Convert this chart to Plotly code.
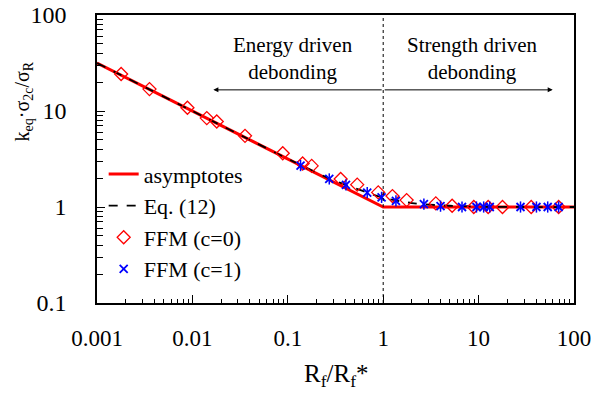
import math
import plotly.graph_objects as go

# ---------------- data ----------------
asym_x = [0.001, 1, 100]
asym_y = [31.62, 1, 1]

eq12_x = [0.001, 0.01, 0.1, 0.2, 0.3, 0.5, 0.7, 1.0, 1.5, 2.0, 3.0, 5.0, 10.0, 30.0, 100.0]
eq12_y = [31.62, 10.0, 3.18, 2.28, 1.90, 1.58, 1.40, 1.25, 1.15, 1.10, 1.06, 1.03, 1.01, 1.0, 1.0]

ffm0_x = [0.00179, 0.00355, 0.00887, 0.01415, 0.0180, 0.0356, 0.0885, 0.143, 0.178, 0.358, 0.534,
          0.887, 1.25, 1.76, 3.56, 5.28, 8.9, 12.6, 17.8, 35.6, 69.0]
ffm0_y = [24.3, 16.9, 10.8, 8.43, 7.77, 5.51, 3.63, 2.84, 2.68, 1.96, 1.71,
          1.42, 1.30, 1.18, 1.09, 1.03, 1.0, 1.0, 1.0, 1.0, 1.0]

ffm1_x = [0.136, 0.272, 0.407, 0.680, 0.962, 1.36, 2.67, 3.99, 6.7, 9.5, 11.3, 13.1, 27.5, 40.4, 53.0, 69.0]
ffm1_y = [2.70, 1.96, 1.70, 1.41, 1.26, 1.16, 1.07, 1.02, 1.0, 1.0, 1.0, 1.0, 1.0, 1.0, 1.0, 1.0]

x_ticks = [0.001, 0.01, 0.1, 1, 10, 100]
x_ticktext = ["0.001", "0.01", "0.1", "1", "10", "100"]
y_ticks = [0.1, 1, 10, 100]
y_ticktext = ["0.1", "1", "10", "100"]

transition_x = 1
energy_arrow_end = 0.0166
strength_arrow_end = 59.8
arrow_y = 16.6
label_y = 35.1
energy_label_x = 0.113
strength_label_x = 8.69

FONT = "Liberation Serif"

minor_x = [m * 10 ** e for e in range(-3, 2) for m in range(2, 10)]
minor_y = [m * 10 ** e for e in range(-1, 2) for m in range(2, 10)]

L = math.log10

fig = go.Figure()
fig.add_trace(go.Scatter(x=asym_x, y=asym_y, mode="lines", name="asymptotes",
                         line=dict(color="#ff0000", width=3)))
fig.add_trace(go.Scatter(x=eq12_x, y=eq12_y, mode="lines", name="Eq. (12)",
                         line=dict(color="black", width=1.8, dash="dash", shape="spline")))
fig.add_trace(go.Scatter(x=ffm0_x, y=ffm0_y, mode="markers", name="FFM (c=0)",
                         marker=dict(symbol="diamond-open", size=10, color="#ff0000",
                                     line=dict(width=1.3, color="#ff0000"))))
fig.add_trace(go.Scatter(x=ffm1_x, y=ffm1_y, mode="markers", name="FFM (c=1)",
                         marker=dict(symbol="x-thin-open", size=8, color="#0000ff",
                                     line=dict(width=1.8, color="#0000ff"))))
fig.add_trace(go.Scatter(x=ffm1_x, y=ffm1_y, mode="markers", showlegend=False,
                         marker=dict(symbol="line-ns-open", size=8, color="#0000ff",
                                     line=dict(width=1.5, color="#0000ff"))))

fig.add_shape(type="line", xref="x", yref="paper", x0=transition_x, x1=transition_x,
              y0=0, y1=1, line=dict(color="black", width=1, dash="dot"))

# annotations on log axes take log10 positions
fig.add_annotation(xref="x", yref="y", axref="x", ayref="y",
                   x=L(energy_arrow_end), y=L(arrow_y), ax=L(transition_x), ay=L(arrow_y),
                   text="", showarrow=True, arrowhead=2, arrowsize=1, arrowwidth=1, arrowcolor="black")
fig.add_annotation(xref="x", yref="y", axref="x", ayref="y",
                   x=L(strength_arrow_end), y=L(arrow_y), ax=L(transition_x), ay=L(arrow_y),
                   text="", showarrow=True, arrowhead=2, arrowsize=1, arrowwidth=1, arrowcolor="black")
fig.add_annotation(xref="x", yref="y", x=L(energy_label_x), y=L(label_y),
                   text="Energy driven<br>debonding", showarrow=False,
                   font=dict(family=FONT, size=21, color="black"))
fig.add_annotation(xref="x", yref="y", x=L(strength_label_x), y=L(label_y),
                   text="Strength driven<br>debonding", showarrow=False,
                   font=dict(family=FONT, size=21, color="black"))

fig.add_annotation(xref="paper", yref="paper", x=-0.155, y=0.70,
                   xanchor="center", yanchor="middle",
                   text="k<sub>eq</sub>·σ<sub>2c</sub>/σ<sub>R</sub>", textangle=-90,
                   showarrow=False, font=dict(family=FONT, size=20, color="black"))
fig.add_annotation(xref="paper", yref="paper", x=0.5, y=-0.252,
                   xanchor="center", yanchor="middle",
                   text="R<sub>f</sub>/R<sub>f</sub>*", showarrow=False,
                   font=dict(family=FONT, size=25, color="black"))

axis_common = dict(type="log", showline=True, linecolor="black", linewidth=1.5, mirror=True,
                   showgrid=False, zeroline=False, ticks="inside", ticklen=8, tickcolor="black",
                   tickmode="array", automargin=False)

fig.update_xaxes(**axis_common, range=[-3, 2], tickvals=x_ticks, ticktext=x_ticktext,
                 tickfont=dict(family=FONT, size=23, color="black"),
                 ticklabelstandoff=14,
                 minor=dict(tickmode="array", tickvals=minor_x, ticks="inside", ticklen=4,
                            tickcolor="black", showgrid=False))
fig.update_yaxes(**axis_common, range=[-1, 2], tickvals=y_ticks, ticktext=y_ticktext,
                 tickfont=dict(family=FONT, size=24, color="black"),
                 ticklabelstandoff=24,
                 minor=dict(tickmode="array", tickvals=minor_y, ticks="inside", ticklen=6,
                            tickcolor="black", showgrid=False))

fig.update_layout(
    width=594, height=394,
    margin=dict(l=97, r=20, t=15, b=91, autoexpand=False),
    paper_bgcolor="white", plot_bgcolor="white",
    font=dict(family=FONT, color="black"),
    legend=dict(x=0.014, y=0.52, xanchor="left", yanchor="top", bgcolor="rgba(0,0,0,0)",
                font=dict(family=FONT, size=22, color="black"), tracegroupgap=0,
                itemwidth=30),
    showlegend=True,
)

fig.write_html("out.html", config={"displayModeBar": False},
               post_script="document.body.style.margin='0px';")
